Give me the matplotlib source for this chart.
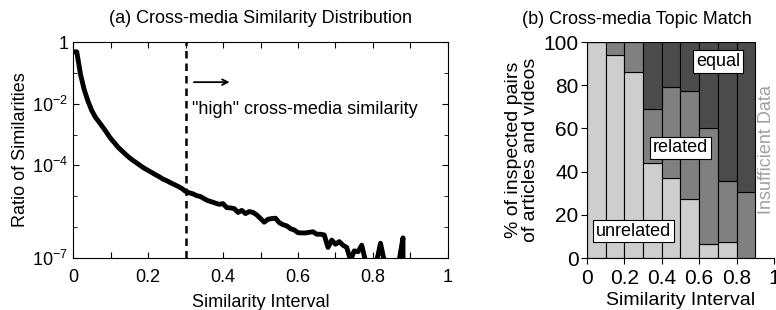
import numpy as np
import matplotlib
matplotlib.use('Agg')
import matplotlib.pyplot as plt
from matplotlib.ticker import NullFormatter

plt.rcParams['font.family'] = ['Liberation Sans', 'DejaVu Sans']
plt.rcParams['mathtext.default'] = 'regular'

# --- (a) similarity distribution, bins of 0.01 ---
sim_x = [0.00, 0.01, 0.02, 0.03, 0.04, 0.05, 0.06, 0.07, 0.08, 0.09,
         0.10, 0.11, 0.12, 0.13, 0.14, 0.15, 0.16, 0.17, 0.18, 0.19,
         0.20, 0.21, 0.22, 0.23, 0.24, 0.25, 0.26, 0.27, 0.28, 0.29,
         0.30, 0.31, 0.32, 0.33, 0.34, 0.35, 0.36, 0.37, 0.38, 0.39,
         0.40, 0.41, 0.42, 0.43, 0.44, 0.45, 0.46, 0.47, 0.48, 0.49,
         0.50, 0.51, 0.52, 0.53, 0.54, 0.55, 0.56, 0.57, 0.58, 0.59,
         0.60, 0.61, 0.62, 0.63, 0.64, 0.65, 0.66, 0.67, 0.68, 0.69,
         0.70, 0.71, 0.72, 0.73, 0.74, 0.75, 0.76, 0.77, 0.78, 0.79,
         0.80, 0.81, 0.82, 0.83, 0.84, 0.85, 0.86, 0.87, 0.88, 0.89]
ratio = [4.8e-1, 4.8e-1, 8.9e-2, 2.8e-2, 1.2e-2, 6.0e-3, 3.6e-3, 2.5e-3, 1.7e-3, 1.15e-3,
         7.6e-4, 5.5e-4, 3.9e-4, 3.0e-4, 2.3e-4, 1.8e-4, 1.45e-4, 1.2e-4, 9.8e-5, 8.1e-5,
         6.9e-5, 5.9e-5, 5.0e-5, 4.3e-5, 3.6e-5, 3.2e-5, 2.75e-5, 2.4e-5, 2.1e-5, 1.8e-5,
         1.45e-5, 1.3e-5, 1.2e-5, 1.05e-5, 9.8e-6, 8.3e-6, 7.2e-6, 6.6e-6, 6.0e-6, 5.5e-6,
         5.8e-6, 4.3e-6, 4.2e-6, 4.0e-6, 3.0e-6, 3.5e-6, 2.75e-6, 3.2e-6, 3.0e-6, 2.5e-6,
         1.9e-6, 1.45e-6, 1.8e-6, 1.9e-6, 1.95e-6, 1.4e-6, 1.2e-6, 1.1e-6, 8.9e-7, 8.1e-7,
         6.6e-7, 6.5e-7, 6.5e-7, 6.8e-7, 7.1e-7, 5.9e-7, 5.9e-7, 5.6e-7, 2.2e-7, 3.8e-7,
         2.8e-7, 3.4e-7, 2.6e-7, 2.2e-7, 8.5e-8, 1.7e-7, 1.6e-7, 2.6e-7, 8.0e-8, 7.5e-8,
         7.5e-8, 8.0e-8, 3.0e-7, 8.0e-8, 7.5e-8, 7.5e-8, 7.5e-8, 8.5e-8, 4.5e-7, 0]

# --- (b) topic match per similarity interval (%) ---
bin_left = [0.0, 0.1, 0.2, 0.3, 0.4, 0.5, 0.6, 0.7, 0.8]
unrelated = [100, 94, 86, 44, 37, 27.5, 6.5, 7.3, 0]
related = [0, 6, 14, 25, 42, 50, 53.5, 28.2, 30.7]
equal = [0, 0, 0, 31, 21, 22.5, 40, 64.5, 69.3]

fig = plt.figure(figsize=(7.76, 3.10), dpi=100)

# ---------- (a) ----------
ax1 = fig.add_axes([0.0941, 0.1677, 0.4832, 0.6968])
ax1.plot(sim_x, ratio, color='black', linewidth=3.5)
ax1.set_yscale('log', nonpositive='clip')
ax1.set_xlim(0, 1)
ax1.set_ylim(1e-7, 1)
ax1.axvline(0.3, color='black', linestyle='--', linewidth=1.8, dashes=(3, 2))
ax1.annotate('', xy=(0.425, 0.05), xytext=(0.315, 0.05),
             arrowprops=dict(arrowstyle='->', color='black', lw=1.3))
ax1.text(0.318, 6.5e-3, '"high" cross-media similarity', fontsize=13, va='center', ha='left')
ax1.set_yticks([1, 1e-2, 1e-4, 1e-7])
ax1.set_yticklabels(['1', '$10^{-2}$', '$10^{-4}$', '$10^{-7}$'])
ax1.set_yticks([1e-1, 1e-3, 1e-5, 1e-6], minor=True)
ax1.yaxis.set_minor_formatter(NullFormatter())
ax1.set_xticks(np.arange(0, 1.01, 0.1))
ax1.set_xticklabels(['0', '', '0.2', '', '0.4', '', '0.6', '', '0.8', '', '1'])
ax1.tick_params(which='both', direction='in', top=True, right=True, labelsize=13)
ax1.tick_params(axis='x', pad=8)
ax1.tick_params(which='major', length=4)
ax1.tick_params(which='minor', length=3)
ax1.set_xlabel('Similarity Interval', fontsize=13, labelpad=6)
ax1.set_ylabel('Ratio of Similarities', fontsize=13, labelpad=2)
ax1.set_title('(a) Cross-media Similarity Distribution', fontsize=13, pad=14)

# ---------- (b) ----------
c_unrel, c_rel, c_eq = '#cecece', '#808080', '#4b4b4b'
ax2 = fig.add_axes([0.7564, 0.1677, 0.241, 0.6968])
bottoms2 = np.array(unrelated)
bottoms3 = bottoms2 + np.array(related)
ax2.bar(bin_left, unrelated, width=0.1, align='edge', color=c_unrel, edgecolor='black', linewidth=0.8)
ax2.bar(bin_left, related, width=0.1, bottom=bottoms2, align='edge', color=c_rel, edgecolor='black', linewidth=0.8)
ax2.bar(bin_left, equal, width=0.1, bottom=bottoms3, align='edge', color=c_eq, edgecolor='black', linewidth=0.8)
ax2.set_xlim(0, 1)
ax2.set_ylim(0, 100)
ax2.set_xticks([0, 0.2, 0.4, 0.6, 0.8, 1])
ax2.set_xticklabels(['0', '0.2', '0.4', '0.6', '0.8', '1'])
ax2.set_yticks([0, 20, 40, 60, 80, 100])
ax2.tick_params(direction='out', length=4, labelsize=15, pad=2)
ax2.tick_params(axis='x', pad=4)
for s in ['top', 'right']:
    ax2.spines[s].set_visible(False)
box = dict(boxstyle='square,pad=0.15', facecolor='white', edgecolor='black', linewidth=0.8)
ax2.text(0.70, 91, 'equal', fontsize=13, ha='center', va='center', bbox=box)
ax2.text(0.50, 51, 'related', fontsize=13, ha='center', va='center', bbox=box)
ax2.text(0.25, 12.5, 'unrelated', fontsize=13, ha='center', va='center', bbox=box)
ax2.text(0.96, 50, 'Insufficient Data', fontsize=13, color='#a0a0a0', rotation=90,
         ha='center', va='center')
ax2.set_xlabel('Similarity Interval', fontsize=14, labelpad=3)
ax2.set_ylabel('% of inspected pairs\nof articles and videos', fontsize=14, labelpad=3, linespacing=1.0)
fig.text(637 / 776, 1 - 19 / 310, '(b) Cross-media Topic Match', fontsize=13,
         ha='center', va='center')

fig.savefig('out.png', dpi=100, facecolor='white')
